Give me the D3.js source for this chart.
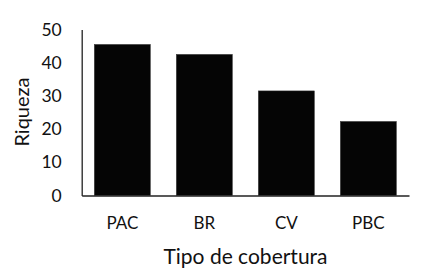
<!DOCTYPE html>
<html><head><meta charset="utf-8">
<script src="https://cdn.jsdelivr.net/npm/d3@7"></script>
<style>html,body{margin:0;padding:0;background:#fff;}svg{display:block;}</style>
</head><body>
<script>
const categories = ["PAC", "BR", "CV", "PBC"];
const values = [45.5, 42.5, 31.5, 22.3];
const yTicks = [0, 10, 20, 30, 40, 50];
const xTitle = "Tipo de cobertura";
const yTitle = "Riqueza";

const W = 439, H = 279;
const mLeft = 81.7, mRight = 409, mTop = 29.5, mBottom = 195.5;
const font = "Lato, 'Open Sans', sans-serif";

const svg = d3.select("body").append("svg").attr("width", W).attr("height", H);

const x = d3.scaleBand().domain(categories).range([mLeft, mRight]).paddingInner(0.317).paddingOuter(0.154);
const y = d3.scaleLinear().domain([0, 50]).range([mBottom, mTop]);

svg.selectAll("rect.bar").data(categories).join("rect")
  .attr("class", "bar")
  .attr("x", d => x(d))
  .attr("width", x.bandwidth())
  .attr("y", (d, i) => y(values[i]))
  .attr("height", (d, i) => y(0) - y(values[i]))
  .attr("fill", "#050505")
  .attr("stroke", "#333")
  .attr("stroke-width", 0.5);

const yAxis = svg.append("g").attr("transform", `translate(${mLeft},0)`)
  .call(d3.axisLeft(y).tickValues(yTicks).tickSize(0).tickPadding(20).tickFormat(d3.format("d")));
yAxis.select(".domain").attr("stroke", "#222").attr("stroke-width", 1.3);
yAxis.selectAll("text").attr("font-family", font).attr("font-size", 17.5).attr("fill", "#111");

const xAxis = svg.append("g").attr("transform", `translate(0,${mBottom})`)
  .call(d3.axisBottom(x).tickSize(0).tickPadding(21.5));
xAxis.select(".domain").attr("stroke", "#222").attr("stroke-width", 1.3);
xAxis.selectAll("text").attr("font-family", font).attr("font-size", 17).attr("fill", "#111");

svg.append("text").attr("x", 245.5).attr("y", 264)
  .attr("text-anchor", "middle").attr("font-family", font).attr("font-size", 21).attr("fill", "#111")
  .text(xTitle);

svg.append("text").attr("transform", `translate(28.5,112) rotate(-90)`)
  .attr("text-anchor", "middle").attr("font-family", font).attr("font-size", 20).attr("fill", "#111")
  .text(yTitle);
</script>
</body></html>
